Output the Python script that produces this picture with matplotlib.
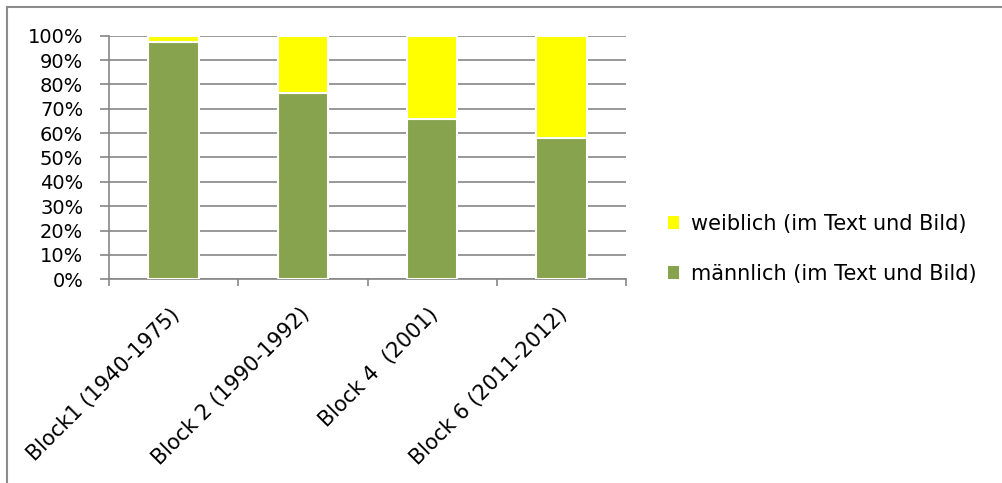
import matplotlib.pyplot as plt
import numpy as np
from matplotlib.patches import Patch
from matplotlib.lines import Line2D
from matplotlib.transforms import ScaledTranslation
from matplotlib.ticker import PercentFormatter

# Anteil männlicher / weiblicher Figuren je Block
blocks = ["Block1 (1940-1975)", "Block 2 (1990-1992)", "Block 4  (2001)", "Block 6 (2011-2012)"]
maennlich = [97.4, 76.6, 65.9, 58.0]
weiblich = [2.6, 23.4, 34.1, 42.0]

green = "#88A34D"
yellow = "#FFFF00"
grid_grey = "#868686"

plt.rcParams['font.family'] = ['DejaVu Sans']
plt.rcParams['font.size'] = 14

W, H = 1003, 483
fig = plt.figure(figsize=(W / 100, H / 100), dpi=100)
ax = fig.add_axes([109 / W, 1 - 279.3 / H, (626 - 109) / W, (279.3 - 35.7) / H])

x = np.arange(len(blocks))
m = np.array(maennlich) / 100
w = np.array(weiblich) / 100
ax.bar(x, m, width=0.39, color=green, edgecolor="white", linewidth=1.5, zorder=3)
ax.bar(x, w, bottom=m, width=0.39, color=yellow, edgecolor="white", linewidth=1.5, zorder=3)

ax.set_xlim(-0.5, len(blocks) - 0.5)
ax.set_ylim(0, 1)
ax.set_yticks(np.arange(0, 1.01, 0.1))
ax.yaxis.set_major_formatter(PercentFormatter(1.0, decimals=0))
ax.yaxis.grid(True, color=grid_grey, linewidth=1.2, zorder=0)
ax.set_axisbelow(True)

for s in ("top", "right"):
    ax.spines[s].set_visible(False)
for s in ("left", "bottom"):
    ax.spines[s].set_color(grid_grey)
    ax.spines[s].set_linewidth(1.2)

ax.tick_params(axis="y", length=6.5, width=1.2, color=grid_grey, pad=12)

# category labels at the centres, tick marks at the boundaries
ax.set_xticks(x)
ax.set_xticks(np.arange(-0.5, len(blocks), 1.0), minor=True)
ax.tick_params(axis="x", which="major", length=0, pad=18)
ax.tick_params(axis="x", which="minor", length=5, width=1.2, color=grid_grey)
ax.set_xticklabels(blocks, rotation=45, ha="right", va="top", rotation_mode="anchor",
                   fontsize=15)
shift = ScaledTranslation(-0.04, 0, fig.dpi_scale_trans)
for lbl in ax.get_xticklabels():
    lbl.set_transform(lbl.get_transform() + shift)

handles = [Patch(facecolor=yellow, edgecolor="none"), Patch(facecolor=green, edgecolor="none")]
fig.legend(handles, ["weiblich (im Text und Bild)", "männlich (im Text und Bild)"],
           loc="center left", bbox_to_anchor=(668 / W, 1 - 249 / H),
           frameon=False, borderaxespad=0, borderpad=0, fontsize=15,
           handlelength=0.55, handleheight=0.55, handletextpad=0.55, labelspacing=1.45)

# outer frame (top and left edge)
fig.add_artist(Line2D([7 / W, 7 / W], [0, 1 - 6.5 / H], transform=fig.transFigure,
                      color="#8c8c8c", linewidth=1.5))
fig.add_artist(Line2D([7 / W, 1002 / W], [1 - 6.5 / H, 1 - 6.5 / H], transform=fig.transFigure,
                      color="#8c8c8c", linewidth=1.5))

fig.savefig("out.png", dpi=100)
